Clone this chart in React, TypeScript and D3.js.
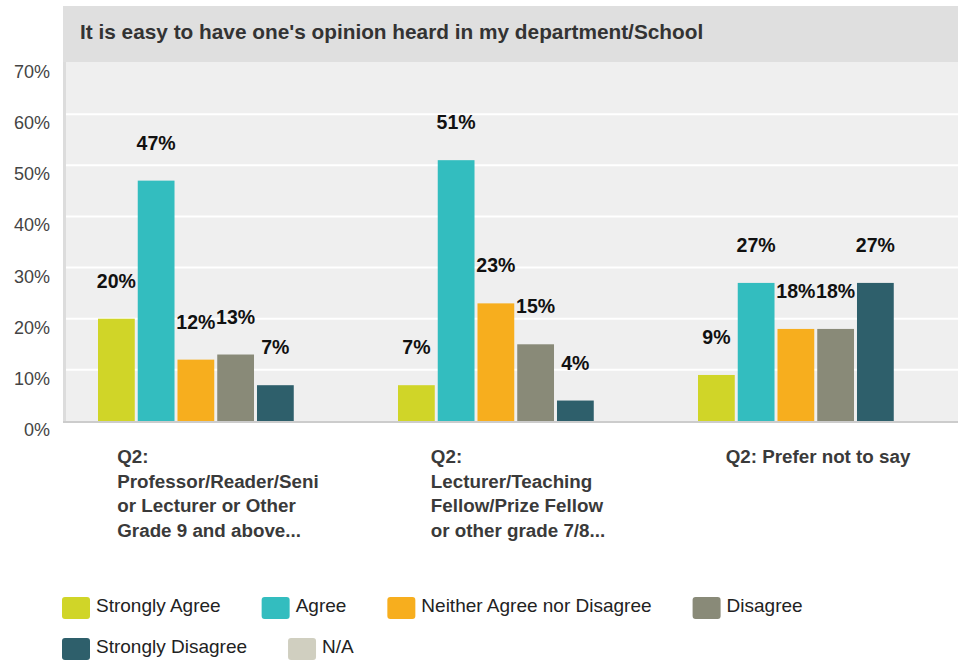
import React, { useEffect, useRef } from "react";
import * as d3 from "d3";

const title = "It is easy to have one's opinion heard in my department/School";

const categoryIds = ["prof", "lect", "pnts"];
const categoryLines = [
  ["Q2:", "Professor/Reader/Seni", "or Lecturer or Other", "Grade 9 and above..."],
  ["Q2:", "Lecturer/Teaching", "Fellow/Prize Fellow", "or other grade 7/8..."],
  ["Q2: Prefer not to say"],
];

const seriesNames = [
  "Strongly Agree",
  "Agree",
  "Neither Agree nor Disagree",
  "Disagree",
  "Strongly Disagree",
  "N/A",
];
const seriesColors = ["#d0d528", "#33bdbf", "#f7ae1e", "#898a78", "#2e5f6b", "#d0cfc0"];

const stronglyAgree = [20, 7, 9];
const agree = [47, 51, 27];
const neither = [12, 23, 18];
const disagree = [13, 15, 18];
const stronglyDisagree = [7, 4, 27];
const notApplicable = [0, 0, 0];
const seriesValues = [stronglyAgree, agree, neither, disagree, stronglyDisagree, notApplicable];

const yTicks = [0, 10, 20, 30, 40, 50, 60, 70];

const FONT = "'Liberation Sans', Arial, Helvetica, sans-serif";

export default function App() {
  const ref = useRef<SVGSVGElement | null>(null);

  useEffect(() => {
    const svg = d3.select(ref.current);
    svg.selectAll("*").remove();

    const plotLeft = 66;
    const plotRight = 958;
    const plotTop = 62;

    const y = d3.scaleLinear().domain([0, 70]).range([421, 63]);
    const x0 = d3.scaleBand<string>().domain(categoryIds).range([68, 968]);
    const x1 = d3.scaleBand<string>().domain(seriesNames).range([30, 265.5]).paddingInner(0.075);

    // title bar
    svg.append("rect").attr("x", 63).attr("y", 6).attr("width", 958 - 63).attr("height", 56).attr("fill", "#dfdfdf");
    svg
      .append("text")
      .attr("x", 80)
      .attr("y", 39)
      .attr("font-family", FONT)
      .attr("font-weight", "bold")
      .attr("font-size", 20.8)
      .attr("fill", "#333")
      .text(title);

    // plot background
    svg
      .append("rect")
      .attr("x", plotLeft)
      .attr("y", plotTop)
      .attr("width", plotRight - plotLeft)
      .attr("height", y(0) - plotTop)
      .attr("fill", "#efefef");
    // left border
    svg.append("rect").attr("x", 63).attr("y", plotTop).attr("width", 3).attr("height", y(0) - plotTop + 2).attr("fill", "#dcdcdc");

    // gridlines
    svg
      .append("g")
      .selectAll("line")
      .data(yTicks.filter((t) => t > 0 && t < 70))
      .join("line")
      .attr("x1", plotLeft)
      .attr("x2", plotRight)
      .attr("y1", (d) => y(d))
      .attr("y2", (d) => y(d))
      .attr("stroke", "#ffffff")
      .attr("stroke-width", 2);

    // y tick labels
    svg
      .append("g")
      .selectAll("text")
      .data(yTicks)
      .join("text")
      .attr("x", 50)
      .attr("y", (d) => y(d) + 15)
      .attr("text-anchor", "end")
      .attr("font-family", FONT)
      .attr("font-size", 18)
      .attr("fill", "#444")
      .text((d) => `${d}%`);

    // bars
    const groups = svg
      .append("g")
      .selectAll("g")
      .data(categoryIds)
      .join("g")
      .attr("transform", (d) => `translate(${x0(d)},0)`);

    groups
      .selectAll("rect")
      .data((_, i) => seriesNames.map((s, si) => ({ s, v: seriesValues[si][i], c: seriesColors[si] })))
      .join("rect")
      .attr("x", (d) => x1(d.s)!)
      .attr("width", x1.bandwidth())
      .attr("y", (d) => y(d.v))
      .attr("height", (d) => y(0) - y(d.v))
      .attr("fill", (d) => d.c);

    groups
      .selectAll("text.val")
      .data((_, i) =>
        seriesNames
          .map((s, si) => ({ s, v: seriesValues[si][i] }))
          .filter((d) => d.v > 0)
      )
      .join("text")
      .attr("class", "val")
      .attr("x", (d) => x1(d.s)! + x1.bandwidth() / 2)
      .attr("y", (d) => y(d.v) - 31)
      .attr("text-anchor", "middle")
      .attr("font-family", FONT)
      .attr("font-weight", "bold")
      .attr("font-size", 19.5)
      .attr("fill", "#111")
      .text((d) => `${d.v}%`);

    // baseline
    svg
      .append("line")
      .attr("x1", 63)
      .attr("x2", plotRight)
      .attr("y1", y(0) + 1)
      .attr("y2", y(0) + 1)
      .attr("stroke", "#cccccc")
      .attr("stroke-width", 2);

    // category labels: left-aligned block centered on band
    categoryIds.forEach((id, i) => {
      const g = svg.append("g");
      const texts = g
        .selectAll("text")
        .data(categoryLines[i])
        .join("text")
        .attr("y", (_, li) => 463 + li * 24.7)
        .attr("font-family", FONT)
        .attr("font-weight", "bold")
        .attr("font-size", 18.8)
        .attr("fill", "#3a3a3a")
        .text((d) => d);
      let maxW = 0;
      texts.each(function () {
        maxW = Math.max(maxW, (this as SVGTextElement).getComputedTextLength());
      });
      const cx = x0(id)! + x0.bandwidth() / 2;
      texts.attr("x", cx - maxW / 2);
    });

    // legend (flow layout)
    const legend = svg.append("g");
    let lx = 62;
    let row = 0;
    const rowY = [608, 649];
    const maxX = 900;
    seriesNames.forEach((name, si) => {
      const item = legend.append("g");
      const t = item
        .append("text")
        .attr("font-family", FONT)
        .attr("font-size", 19)
        .attr("fill", "#222")
        .text(name);
      const w = (t.node() as SVGTextElement).getComputedTextLength();
      const itemW = 28 + 6 + w;
      if (lx + itemW > maxX) {
        row += 1;
        lx = 62;
      }
      const cy = rowY[row];
      item
        .insert("rect", "text")
        .attr("x", lx)
        .attr("y", cy - 11)
        .attr("width", 28)
        .attr("height", 22)
        .attr("rx", 3)
        .attr("fill", seriesColors[si]);
      t.attr("x", lx + 34).attr("y", cy + 4);
      lx += itemW + 41;
    });
  }, []);

  return (
    <svg
      ref={ref}
      width={958}
      height={660}
      style={{ position: "absolute", left: 0, top: 0, display: "block", background: "#fff" }}
    />
  );
}
